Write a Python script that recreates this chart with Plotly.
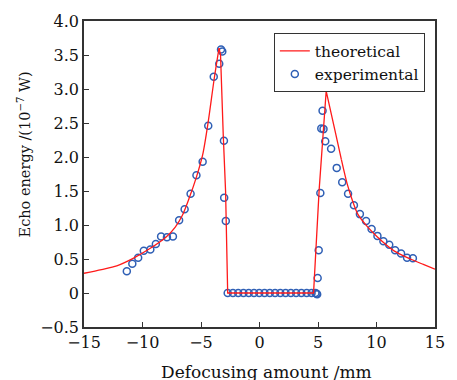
import plotly.graph_objects as go

# Theoretical curve
theo_x = [-15, -13.5, -12.2, -10.8, -9.4, -8.0, -7.2, -6.6, -6.0, -5.4, -4.86, -4.38, -3.88, -3.46,
          -3.33, -3.1, -2.9, -2.72, 4.62, 5.1, 5.7, 6.5, 7.0, 7.5, 8.0, 8.4, 9.2, 10.1, 11.5, 12.9, 14.0, 15]
theo_y = [0.29, 0.345, 0.40, 0.51, 0.65, 0.82, 0.97, 1.14, 1.40, 1.70, 2.03, 2.52, 3.14, 3.60,
          3.50, 2.33, 1.50, 0.0, 0.0, 1.52, 2.97, 2.35, 1.96, 1.60, 1.33, 1.16, 0.98, 0.82, 0.62, 0.50, 0.42, 0.35]

# Experimental points
exp_x = [-11.34, -10.87, -10.37, -9.89, -9.33, -8.86, -8.41, -7.91, -7.40, -6.87, -6.40, -5.89, -5.39,
         -4.86, -4.38, -3.91, -3.44, -3.29, -3.18, -3.04, -3.02, -2.88,
         -2.72, -2.27, -1.82, -1.37, -0.92, -0.47, -0.02, 0.43, 0.88, 1.33, 1.78, 2.23, 2.68, 3.13,
         3.58, 4.03, 4.45, 4.78, 4.88, 4.93,
         4.97, 5.06, 5.20, 5.28, 5.39, 5.47, 5.62, 6.12, 6.60, 7.07, 7.57, 8.07, 8.58, 9.11, 9.58,
         10.08, 10.59, 11.09, 11.59, 12.10, 12.61, 13.11]
exp_y = [0.32, 0.43, 0.52, 0.62, 0.64, 0.72, 0.83, 0.82, 0.83, 1.07, 1.23, 1.46, 1.73,
         1.93, 2.46, 3.18, 3.37, 3.58, 3.55, 2.24, 1.40, 1.06,
         0, 0, 0, 0, 0, 0, 0, 0, 0, 0, 0, 0, 0, 0,
         0, 0, 0, 0, -0.01, -0.02,
         0.22, 0.63, 1.47, 2.42, 2.68, 2.41, 2.23, 2.12, 1.84, 1.63, 1.46, 1.29, 1.16, 1.06, 0.94,
         0.84, 0.76, 0.71, 0.63, 0.58, 0.52, 0.51]

x_ticks = [-15, -10, -5, 0, 5, 10, 15]
x_ticktext = ["\u221215", "\u221210", "\u22125", "0", "5", "10", "15"]
y_ticks = [-0.5, 0, 0.5, 1.0, 1.5, 2.0, 2.5, 3.0, 3.5, 4.0]
y_ticktext = ["\u22120.5", "0", "0.5", "1.0", "1.5", "2.0", "2.5", "3.0", "3.5", "4.0"]

FONT = "DejaVu Serif"
AX = "#333333"
TXT = "#111111"
RED = "#ff1a1a"
BLUE = "#2f5fb5"

fig = go.Figure()
fig.add_trace(go.Scatter(
    x=exp_x, y=exp_y, mode="markers", name="experimental", legendrank=2,
    marker=dict(symbol="circle-open", size=7, color=BLUE, line=dict(width=1.5, color=BLUE)),
))

# theoretical curve: smooth tails, sharp middle section (same data, split by index)
segments = [(0, 14, "spline", True), (13, 23, "linear", False), (22, len(theo_x), "spline", False)]
for a, b, shape, show in segments:
    fig.add_trace(go.Scatter(
        x=theo_x[a:b], y=theo_y[a:b], mode="lines", name="theoretical", legendrank=1,
        legendgroup="theo", showlegend=show,
        line=dict(color=RED, width=1.3, shape=shape, smoothing=0.8 if shape == "spline" else None),
    ))

fig.update_layout(
    width=457, height=380,
    margin=dict(l=84, r=15, t=19, b=53),
    paper_bgcolor="white", plot_bgcolor="white",
    font=dict(family=FONT, size=16, color=TXT),
    showlegend=True,
    legend=dict(
        x=0.971, y=0.96, xanchor="right", yanchor="top",
        bgcolor="white", bordercolor=AX, borderwidth=1,
        font=dict(family=FONT, size=15.5, color=TXT),
        tracegroupgap=0, itemwidth=30,
    ),
    xaxis=dict(
        range=[-15, 15], tickvals=x_ticks, ticktext=x_ticktext,
        ticks="inside", ticklen=5, tickcolor=AX, tickwidth=1,
        showline=True, linecolor=AX, linewidth=1.5, mirror=True,
        showgrid=False, zeroline=False, tickfont=dict(size=16),
    ),
    yaxis=dict(
        range=[-0.5, 4.0], tickvals=y_ticks, ticktext=y_ticktext,
        ticks="inside", ticklen=5, tickcolor=AX, tickwidth=1,
        showline=True, linecolor=AX, linewidth=1.5, mirror=True,
        showgrid=False, zeroline=False, tickfont=dict(size=16),
    ),
    annotations=[
        dict(text="Defocusing amount /mm", xref="paper", yref="paper",
             x=0.52, y=-0.146, xanchor="center", yanchor="middle", showarrow=False,
             font=dict(family=FONT, size=17, color=TXT)),
        dict(text="Echo energy /(10<sup>\u22127</sup> W)", xref="paper", yref="paper",
             x=-0.17, y=0.565, xanchor="center", yanchor="middle", showarrow=False, textangle=-90,
             font=dict(family=FONT, size=14.5, color=TXT)),
    ],
)

fig.write_html("out.html")
